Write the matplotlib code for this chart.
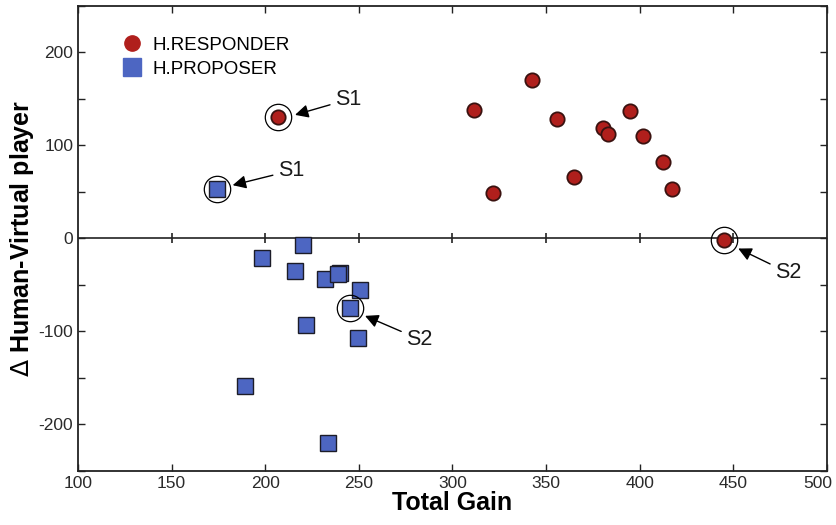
import matplotlib
matplotlib.use('Agg')
import matplotlib.pyplot as plt  # noqa E402
import matplotlib.transforms as mtransforms  # noqa E402
from matplotlib.lines import Line2D  # noqa E402

plt.rcParams['font.family'] = ['Liberation Sans', 'DejaVu Sans']
plt.rcParams['axes.unicode_minus'] = False

# H.RESPONDER points (total gain, delta human-virtual)
resp_gain = [206.9, 311.6, 342.6, 321.6, 356.0, 365.0, 380.5, 383.2,
             394.6, 401.6, 412.6, 417.4, 444.8]
resp_delta = [130.4, 138.3, 170.5, 48.4, 128.3, 66.6, 118.6, 112.2,
              136.6, 110.2, 82.3, 52.7, -1.9]

# H.PROPOSER points
prop_gain = [174.1, 220.0, 198.3, 216.0, 231.7, 240.0, 239.0, 250.4,
             245.4, 222.0, 249.5, 189.3, 233.6]
prop_delta = [53.0, -7.5, -21.5, -35.5, -43.8, -37.0, -38.4, -55.3,
              -75.0, -93.5, -107.2, -159.0, -219.8]

# highlighted subjects: label, point, text position, arrow tip
highlights = [
    ("S1", 206.9, 130.4, 244.5, 149.5, 215.9, 132.9),
    ("S1", 174.1, 53.0, 214.0, 73.0, 182.6, 57.3),
    ("S2", 245.4, -75.0, 282.5, -108.5, 253.3, -83.2),
    ("S2", 444.8, -1.9, 479.5, -37.0, 452.6, -10.8),
]

x_ticks = [100, 150, 200, 250, 300, 350, 400, 450, 500]
y_ticks = [-200, -100, 0, 100, 200]

red = '#b01f1c'
red_edge = '#3a1210'
blue = '#4d66c2'
blue_edge = '#1c1c28'
axis_col = '#222222'

fig = plt.figure(figsize=(8.36, 5.25), dpi=100)
ax = fig.add_axes([0.0933, 0.1029, 0.8959, 0.8857])

# zero line with its own crossing ticks
ax.axhline(0, color=axis_col, lw=1.2, zorder=1)
ax.plot(x_ticks[1:-1], [0] * (len(x_ticks) - 2), ls='none', marker='|',
        ms=7, mew=1.2, color=axis_col, zorder=1)

ax.plot(prop_gain, prop_delta, ls='none', marker='s', ms=12,
        mfc=blue, mec=blue_edge, mew=1.0, zorder=3)
ax.plot(resp_gain, resp_delta, ls='none', marker='o', ms=10.3,
        mfc=red, mec=red_edge, mew=1.3, zorder=3)

for lab, px, py, tx, ty, ax_, ay in highlights:
    ax.plot(px, py, ls='none', marker='o', ms=19, mfc='none',
            mec='black', mew=0.9, zorder=4)
    ax.annotate(lab, xy=(ax_, ay), xytext=(tx, ty), fontsize=15.5,
                ha='center', va='center', color='#1a1a1a',
                arrowprops=dict(arrowstyle='-|>', color='black', lw=1.0,
                                mutation_scale=20, shrinkA=2, shrinkB=0))

ax.set_xlim(100, 500)
ax.set_ylim(-250, 250)
ax.set_xticks(x_ticks)
ax.set_yticks(y_ticks)
ax.set_yticks([-250, -150, -50, 50, 150, 250], minor=True)
ax.tick_params(which='both', direction='in', top=True, right=True,
               color=axis_col, width=1.0, labelsize=12.5, labelcolor='#2a2a2a')
ax.tick_params(which='major', length=5)
ax.tick_params(which='minor', length=5)
for sp in ax.spines.values():
    sp.set_linewidth(1.3)
    sp.set_color(axis_col)

# keep the last x label inside the figure
last = ax.get_xticklabels()[-1]
last.set_transform(last.get_transform() +
                   mtransforms.ScaledTranslation(-9 / 100, 0, fig.dpi_scale_trans))

ax.set_xlabel('Total Gain', fontsize=18, fontweight='bold', labelpad=0)
ax.set_ylabel(r'$\Delta$ Human-Virtual player', fontsize=18,
              fontweight='bold', labelpad=2)

handles = [
    Line2D([], [], ls='none', marker='o', ms=11, mfc=red, mec=red),
    Line2D([], [], ls='none', marker='s', ms=13, mfc=blue, mec=blue),
]
ax.legend(handles, ['H.RESPONDER', 'H.PROPOSER'], loc='upper left',
          bbox_to_anchor=(0.035, 0.97), frameon=False, fontsize=13.5,
          handletextpad=0.45, labelspacing=0.35, handlelength=1.2)

fig.savefig('out.png', dpi=100)
plt.close(fig)
